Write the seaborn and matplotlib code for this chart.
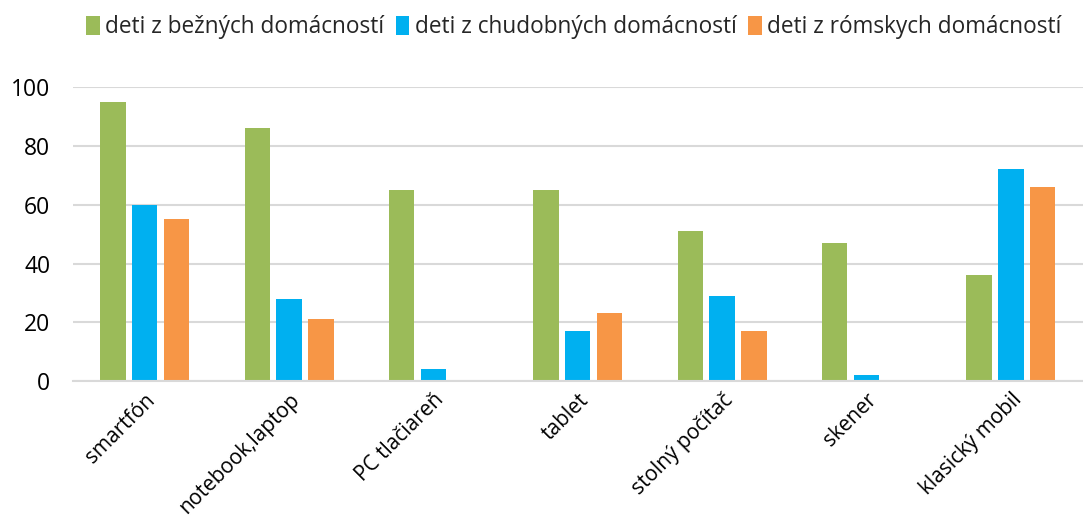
import pandas as pd
import matplotlib.pyplot as plt
import seaborn as sns

# data
categories = ["smartfón", "notebook,laptop", "PC tlačiareň", "tablet",
              "stolný počítač", "skener", "klasický mobil"]
bezne = [95, 86, 65, 65, 51, 47, 36]
chudobne = [60, 28, 4, 17, 29, 2, 72]
romske = [55, 21, 0, 23, 17, 0, 66]
series = ["deti z bežných domácností", "deti z chudobných domácností",
          "deti z rómskych domácností"]
colors = ["#9BBB59", "#00B0F0", "#F79646"]

df = pd.DataFrame({
    "kategoria": categories * 3,
    "hodnota": bezne + chudobne + romske,
    "skupina": [series[0]] * 7 + [series[1]] * 7 + [series[2]] * 7,
})

sns.set_style("white")
plt.rcParams['font.family'] = ['Open Sans', 'DejaVu Sans']

fig = plt.figure(figsize=(10.83, 5.22), dpi=100)
ax = fig.add_axes([0.067, 0.27, 0.933, 0.563])

sns.barplot(data=df, x="kategoria", y="hodnota", hue="skupina",
            palette=colors, saturation=1, width=0.66, gap=0.2, ax=ax,
            edgecolor="none", legend=True)

ax.set_ylim(0, 100)
ax.set_xlim(-0.5, 6.5)
ax.set_yticks([0, 20, 40, 60, 80, 100])
ax.yaxis.grid(True, color="#d9d9d9", linewidth=1.5)
ax.set_axisbelow(True)
for s in ["top", "right", "left"]:
    ax.spines[s].set_visible(False)
ax.spines["bottom"].set_color("#d9d9d9")
ax.spines["bottom"].set_linewidth(1.5)
ax.tick_params(axis="both", length=0, colors="#000000")
ax.tick_params(axis="y", pad=16, labelsize=16.5)
ax.tick_params(axis="x", pad=6, labelsize=15)
ax.set_xlabel("")
ax.set_ylabel("")
plt.setp(ax.get_xticklabels(), rotation=45, ha="right", rotation_mode="anchor")

handles, labels = ax.get_legend_handles_labels()
ax.get_legend().remove()
fig.legend(handles, labels, loc="upper center", bbox_to_anchor=(0.53, 1.01),
           ncol=3, frameon=False, fontsize=16.3, handlelength=0.6,
           handleheight=0.9, handletextpad=0.25, columnspacing=0.5)

fig.savefig("out.png", dpi=100)
